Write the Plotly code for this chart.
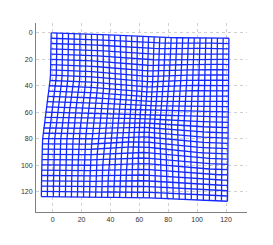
import numpy as np
import plotly.graph_objects as go

# Undeformed grid line positions (every 4 units)
GRID_U = list(range(0, 128, 4))   # columns
GRID_V = list(range(0, 128, 4))   # rows

# Boundary of the deformed mesh
LEFT_V = [0, 20, 34, 40, 50, 60, 70, 80, 92, 124]
LEFT_X = [-1.0, -1.0, -1.6, -2.3, -3.9, -5.1, -6.2, -6.9, -7.4, -7.8]
RIGHT_V = [0, 62, 124]
RIGHT_X = [122.0, 121.5, 121.0]
TOP_U = [0, 44, 64, 87, 124]
TOP_Y = [0.0, 1.0, 1.5, 3.0, 4.0]
BOTTOM_U = [0, 62, 124]
BOTTOM_Y = [123.5, 125.0, 127.0]

# Local contraction in the middle of the mesh
SINK_CENTER = [62.0, 61.0]
SINK_STRENGTH = 0.19
SINK_SPREAD = [20.0, 28.0]

X_TICKS = [0, 20, 40, 60, 80, 100, 120]
Y_TICKS = [0, 20, 40, 60, 80, 100, 120]

u = np.array(GRID_U, float)
v = np.array(GRID_V, float)
umax, vmax = u.max(), v.max()

def left(vv):
    t = vv / vmax
    return np.interp(vv, LEFT_V, LEFT_X), t * BOTTOM_Y[0]

def right(vv):
    t = vv / vmax
    return np.interp(vv, RIGHT_V, RIGHT_X), TOP_Y[-1] + t * (BOTTOM_Y[-1] - TOP_Y[-1])

def top(uu):
    s = uu / umax
    return LEFT_X[0] + s * (RIGHT_X[0] - LEFT_X[0]), np.interp(uu, TOP_U, TOP_Y)

def bottom(uu):
    s = uu / umax
    return LEFT_X[-1] + s * (RIGHT_X[-1] - LEFT_X[-1]), np.interp(uu, BOTTOM_U, BOTTOM_Y)

P00 = np.array([LEFT_X[0], TOP_Y[0]])
P10 = np.array([RIGHT_X[0], TOP_Y[-1]])
P01 = np.array([LEFT_X[-1], BOTTOM_Y[0]])
P11 = np.array([RIGHT_X[-1], BOTTOM_Y[-1]])

def node(uu, vv):
    s, t = uu / umax, vv / vmax
    L = np.array(left(vv)); R = np.array(right(vv))
    T = np.array(top(uu)); B = np.array(bottom(uu))
    p = ((1 - s) * L + s * R + (1 - t) * T + t * B
         - ((1 - s) * (1 - t) * P00 + s * (1 - t) * P10 + (1 - s) * t * P01 + s * t * P11))
    d = p - np.array(SINK_CENTER)
    g = np.exp(-0.5 * ((d[0] / SINK_SPREAD[0]) ** 2 + (d[1] / SINK_SPREAD[1]) ** 2))
    return p - SINK_STRENGTH * d * g

X = np.zeros((len(v), len(u)))
Y = np.zeros((len(v), len(u)))
for j, vv in enumerate(v):
    for i, uu in enumerate(u):
        X[j, i], Y[j, i] = node(uu, vv)

xs, ys = [], []
for j in range(len(v)):
    xs += list(X[j, :]) + [None]
    ys += list(Y[j, :]) + [None]
for i in range(len(u)):
    xs += list(X[:, i]) + [None]
    ys += list(Y[:, i]) + [None]

fig = go.Figure(go.Scatter(x=xs, y=ys, mode="lines",
                           line=dict(color="rgb(20,40,255)", width=1.3),
                           hoverinfo="skip"))

axis_common = dict(showline=True, linecolor="#808080", linewidth=1, mirror=False,
                   showgrid=True, gridcolor="#cfcfcf", griddash="dot", gridwidth=1,
                   zeroline=False, ticks="", automargin=False, ticklabelstandoff=1,
                   tickfont=dict(size=7, color="#303030", family="Liberation Sans"))
fig.update_xaxes(range=[-11.5, 134.5], tickvals=X_TICKS, **axis_common)
fig.update_yaxes(range=[135.1, -7.5], tickvals=Y_TICKS, **axis_common)
fig.update_layout(width=273, height=245, margin=dict(l=36, r=26, t=23, b=33, pad=0),
                  paper_bgcolor="white", plot_bgcolor="white", showlegend=False)
fig.write_html("out.html", config={"displayModeBar": False, "staticPlot": True},
               post_script="document.body.style.margin='0';document.body.style.overflow='hidden';")
